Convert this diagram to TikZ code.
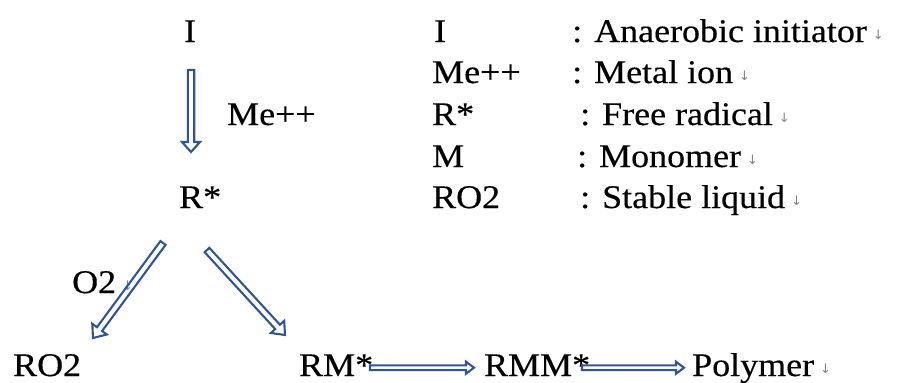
\documentclass[tikz,border=0pt]{standalone}
\usepackage{fontspec}
\setmainfont{Liberation Serif}[FakeStretch=1.09,FakeBold=0.35]
\newfontfamily\markfont{DejaVu Sans}
\usetikzlibrary{calc}
\definecolor{arrowblue}{RGB}{47,85,151}
\definecolor{markgray}{RGB}{130,130,130}
\newcommand\pmark{\hspace{6pt}\raisebox{3pt}{\color{markgray}\markfont\fontsize{13}{13}\selectfont ↓}}
% #1 start, #2 end, #3 shaft half width, #4 head half width, #5 head length
\newcommand\blockarrow[5]{%
  \coordinate (ba-h) at ($(#2)!#5!(#1)$);
  \draw[barrow] ($(#1)!#3!90:(#2)$) -- ($(ba-h)!#3!90:(#2)$) -- ($(ba-h)!#4!90:(#2)$)
    -- (#2) -- ($(ba-h)!#4!-90:(#2)$) -- ($(ba-h)!#3!-90:(#2)$) -- ($(#1)!#3!-90:(#2)$) -- cycle;
}
\begin{document}
\begin{tikzpicture}[x=1pt,y=-1pt,
  txt/.style={font=\fontsize{33}{40}\selectfont, inner sep=0pt, anchor=base west},
  barrow/.style={draw=arrowblue, line width=2.1pt, line join=miter}]
\useasboundingbox (0,0) rectangle (898,383);
% main scheme
\node[txt, anchor=base] (nI) at (190,42) {I};
\node[txt] (nMe) at (227,125) {Me++};
\node[txt] (nR) at (179,208) {R*};
\node[txt] (nO2) at (72,293) {O2\pmark};
\node[txt] (nRO2) at (13,376) {RO2};
\node[txt] (nRM) at (299,376) {RM*};
\node[txt] (nRMM) at (484,376) {RMM*};
\node[txt] (nPoly) at (692,376) {Polymer\pmark};
% legend
\node[txt] (l1a) at (434,42) {I};
\node[txt] (l2a) at (432,83) {Me++};
\node[txt] (l3a) at (432,125) {R*};
\node[txt] (l4a) at (432,167) {M};
\node[txt] (l5a) at (432,208) {RO2};
\node[txt] (l1b) at (572,42) {: Anaerobic initiator\pmark};
\node[txt] (l2b) at (572,83) {: Metal ion\pmark};
\node[txt] (l3b) at (580,125) {: Free radical\pmark};
\node[txt] (l4b) at (577,167) {: Monomer\pmark};
\node[txt] (l5b) at (580,208) {: Stable liquid\pmark};
% connector end points
\coordinate (a1s) at ($(nI.base)+(1,28)$);
\coordinate (a1e) at ($(nR.base west)+(12,-56)$);
\coordinate (a2s) at ($(nR.base west)+(-16,35)$);
\coordinate (a2e) at ($(nRO2.base west)+(80,-38)$);
\coordinate (a3s) at ($(nR.base west)+(28,42)$);
\coordinate (a3e) at ($(nRM.base west)+(-14,-41)$);
\coordinate (a4s) at ($(nRM.base west)+(71,-8.3)$);
\coordinate (a4e) at ($(nRMM.base west)+(-10,-8.3)$);
\coordinate (a5s) at ($(nRMM.base west)+(98,-8.3)$);
\coordinate (a5e) at ($(nPoly.base west)+(-8,-8.3)$);
\blockarrow{a1s}{a1e}{3.2pt}{9pt}{10pt}
\blockarrow{a2s}{a2e}{3.2pt}{9pt}{11pt}
\blockarrow{a3s}{a3e}{3.2pt}{9pt}{11pt}
\blockarrow{a4s}{a4e}{2.4pt}{6pt}{8pt}
\blockarrow{a5s}{a5e}{2.4pt}{6pt}{8pt}
\end{tikzpicture}
\end{document}
